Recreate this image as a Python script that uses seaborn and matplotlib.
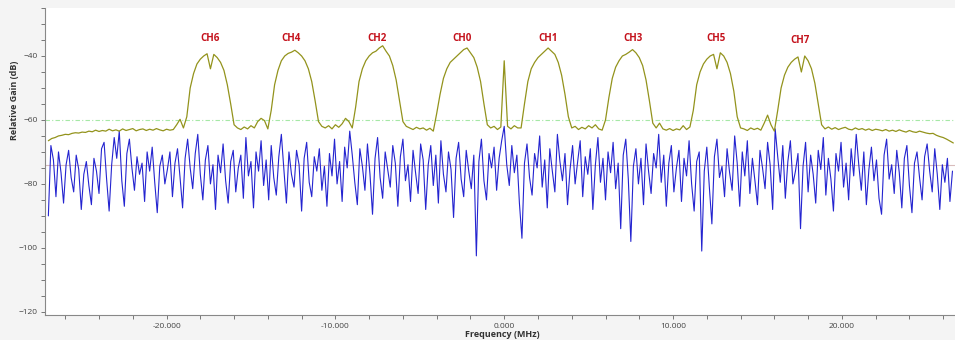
import numpy as np
import pandas as pd
import matplotlib
matplotlib.use("Agg")
import matplotlib.pyplot as plt
import seaborn as sns
from matplotlib.ticker import MultipleLocator, FormatStrFormatter

# Spectrum bins (MHz)
FREQ_START = -27.0
GREEN_STEP = 0.2
BLUE_STEP = 0.15

# Multi-channel output (olive trace), one value per 0.2 MHz bin
green_db = [
    -66.5, -65.8, -65.5, -65.0, -64.8, -64.5, -64.6, -64.2, -64.0, -64.1,
    -63.8, -63.9, -63.5, -63.7, -63.2, -63.6, -63.3, -63.5, -62.9, -63.4,
    -63.1, -63.5, -62.8, -63.3, -63.0, -62.7, -63.4, -63.0, -62.8, -63.3,
    -62.9, -63.2, -62.7, -63.1, -63.4, -62.9, -63.2, -63.0, -61.5, -59.8,
    -62.5, -59.0, -50.0, -45.5, -42.5, -41.0, -40.0, -39.3, -44.0, -39.5,
    -40.5, -42.0, -44.5, -49.0, -55.0, -61.5, -62.5, -63.0, -62.2, -62.8,
    -61.8, -62.5, -60.5, -59.5, -60.2, -62.8, -57.0, -49.0, -44.5, -41.5,
    -40.0, -39.2, -38.8, -38.2, -39.0, -40.0, -41.5, -44.0, -48.0, -54.0,
    -60.5, -62.0, -62.5, -61.8, -62.8, -61.5, -62.3, -61.2, -59.5, -60.5,
    -62.5, -56.0, -48.0, -44.0, -41.5, -40.0, -39.0, -38.5, -37.5, -36.8,
    -38.5, -40.0, -43.0, -47.5, -54.0, -60.5, -62.0, -62.5, -63.0, -62.3,
    -62.8, -62.5, -63.2, -62.6, -63.5, -58.0, -52.0, -47.0, -44.0, -42.0,
    -41.0, -40.0, -39.0, -38.0, -37.5, -39.0, -40.5, -43.5, -48.0, -55.0,
    -61.5, -62.5, -62.0, -63.0, -62.2, -41.5, -62.0, -62.8, -61.8, -62.5,
    -62.5, -55.0, -48.0, -44.0, -42.0, -40.5, -39.5, -38.5, -37.5, -38.5,
    -39.5, -42.0, -46.0, -52.0, -59.0, -62.5, -62.0, -63.0, -62.3, -62.8,
    -61.8, -62.5, -61.5, -62.8, -63.2, -60.0, -53.0, -47.0, -43.5, -41.5,
    -40.0, -39.5, -38.8, -38.0, -39.0, -40.5, -43.0, -47.5, -54.0, -61.0,
    -62.5, -61.0, -62.8, -63.2, -62.7, -63.3, -62.8, -63.1, -61.8, -63.0,
    -62.2, -57.0, -49.0, -45.0, -42.5, -41.0, -40.0, -39.5, -44.0, -39.0,
    -40.0, -42.0, -45.5, -51.0, -59.0, -62.5, -62.8, -63.3, -62.5, -63.0,
    -62.6, -63.2, -61.0, -58.5, -61.5, -63.5, -57.0, -50.0, -46.0, -43.5,
    -42.0, -41.0, -40.3, -45.0, -40.0, -41.5, -44.0, -48.5, -55.0, -61.5,
    -62.8, -62.2, -62.9, -62.4, -63.0, -62.6, -62.3, -62.9, -63.1, -62.5,
    -63.0, -62.7, -63.2, -62.8, -63.3, -62.9, -63.1, -63.4, -63.0, -63.5,
    -63.2, -63.6, -63.1, -63.5, -63.8, -63.3, -63.7, -63.9, -63.5, -63.8,
    -64.1, -64.3, -64.2, -64.8, -65.2, -65.5, -66.0, -66.6, -67.2,
]

# Input noise (blue trace), one value per 0.15 MHz bin
blue_db = [
    -90.0, -68.0, -72.5, -84.0, -70.0, -76.5, -86.0, -74.0, -69.5, -78.0,
    -82.5, -71.0, -75.5, -88.0, -77.0, -73.0, -80.5, -86.5, -72.0, -76.0,
    -83.0, -69.0, -67.0, -78.5, -88.5, -74.0, -65.5, -72.0, -63.5, -79.0,
    -87.0, -70.5, -66.0, -75.0, -82.0, -71.5, -77.0, -73.5, -85.5, -70.0,
    -76.0, -68.5, -79.5, -89.0, -74.5, -71.0, -80.0, -75.5, -70.0, -84.0,
    -73.5, -69.0, -78.0, -87.5, -72.0, -66.0, -75.0, -81.5, -70.5, -64.5,
    -77.0, -85.0, -72.5, -68.0, -80.0, -74.0, -88.0, -71.0, -76.5, -67.5,
    -79.0, -86.0, -73.0, -69.5, -82.5, -75.0, -71.0, -84.5, -65.5, -77.5,
    -73.0, -87.5, -70.0, -76.0, -66.5, -80.5, -72.5, -85.0, -68.0, -78.0,
    -83.5, -71.5, -64.5, -75.5, -86.0, -70.0, -77.0, -81.0, -69.5, -74.0,
    -88.5, -72.0, -67.0, -79.5, -84.0, -71.5, -76.0, -69.0, -82.0, -74.5,
    -87.0, -70.5, -77.5, -66.0, -80.0, -73.0, -85.5, -68.5, -75.0, -63.5,
    -71.0, -79.5, -86.5, -69.0, -74.5, -82.0, -67.5, -77.0, -89.5, -72.0,
    -65.5, -78.0, -84.5, -70.0, -75.5, -81.0, -68.0, -73.5, -87.0, -71.5,
    -66.0, -79.0, -74.0, -85.5, -69.5, -76.5, -83.0, -67.5, -72.5, -88.0,
    -74.0, -68.0, -80.5, -71.0, -86.0, -66.5, -77.0, -82.5, -70.0, -75.5,
    -90.5, -72.0, -67.0, -78.5, -84.0, -69.5, -76.0, -81.5, -71.0, -102.5,
    -73.0, -66.0, -79.0, -85.0, -70.5, -75.0, -68.5, -82.0, -72.0, -66.5,
    -62.0, -74.0, -80.5, -68.0, -76.5, -71.0, -86.0, -97.0, -73.5, -67.5,
    -78.0, -83.5, -70.5, -75.0, -65.0, -81.0, -72.5, -87.5, -69.0, -76.0,
    -82.5, -64.5, -73.0, -79.0, -70.5, -86.5, -75.5, -68.0, -80.0, -73.0,
    -66.5, -84.0, -71.5, -77.0, -69.0, -88.0, -74.0, -65.5, -79.5, -72.0,
    -85.0, -70.0, -76.5, -67.0, -81.5, -73.5, -94.0, -71.0, -66.0, -78.5,
    -98.0, -74.5, -69.0, -80.0, -72.0, -86.5, -67.5, -76.0, -83.0, -70.5,
    -75.0, -64.5, -79.5, -71.0, -87.0, -73.5, -68.0, -82.5, -75.0, -69.5,
    -85.5, -72.0, -77.5, -66.5, -80.0, -88.5, -73.0, -70.0, -101.0, -76.0,
    -68.5, -81.0, -92.5, -71.5, -66.0, -78.0, -74.5, -84.0, -69.0, -76.5,
    -82.0, -65.0, -73.5, -87.0, -70.0, -77.5, -66.5, -83.0, -72.0, -79.0,
    -86.5, -69.5, -75.0, -81.5, -67.0, -74.0, -88.0, -62.8, -71.5, -79.5,
    -68.0, -84.5, -73.0, -66.5, -80.0, -76.0, -70.5, -94.0, -74.5, -67.0,
    -82.5, -71.0, -77.0, -86.0, -69.5, -75.5, -65.5, -83.5, -72.0, -78.5,
    -88.5, -70.5, -76.0, -67.0, -81.0, -73.5, -85.0, -69.0, -77.5, -64.5,
    -74.0, -82.0, -70.0, -86.5, -75.5, -68.5, -79.0, -72.5, -84.5, -89.5,
    -71.0, -66.0, -78.5, -74.0, -83.0, -69.5, -76.5, -87.5, -72.0, -68.0,
    -80.5, -89.0, -73.5, -70.0, -78.0, -85.0, -71.5, -67.5, -76.0, -82.5,
    -69.0, -77.0, -88.0, -74.0, -79.5, -72.0, -85.5, -76.0,
]

channel_names = ["CH6", "CH4", "CH2", "CH0", "CH1", "CH3", "CH5", "CH7"]
channel_freqs = [-17.45, -12.6, -7.55, -2.5, 2.6, 7.6, 12.55, 17.5]
channel_label_db = [-34.6, -34.6, -34.6, -34.4, -34.6, -34.6, -34.4, -35.3]

threshold_db = -60
noise_mean_db = -74

green = pd.DataFrame({
    "freq": FREQ_START + GREEN_STEP * np.arange(len(green_db)),
    "gain": green_db,
})
blue = pd.DataFrame({
    "freq": FREQ_START + BLUE_STEP * np.arange(len(blue_db)),
    "gain": blue_db,
})

sns.set_theme(style="white")
plt.rcParams["font.family"] = ["Open Sans", "DejaVu Sans"]

fig = plt.figure(figsize=(9.55, 3.4), dpi=100, facecolor="#f4f4f4")
ax = fig.add_axes([0.0471, 0.0735, 0.9529, 0.9029])
ax.set_facecolor("white")

ax.axhline(noise_mean_db, color="#d9bcbc", linewidth=0.8, zorder=1)
ax.axhline(threshold_db, color="#a6e8a6", linewidth=0.8,
           linestyle=(0, (4, 2, 1, 2)), zorder=1)

sns.lineplot(data=blue, x="freq", y="gain", ax=ax, color="#2424d0",
             linewidth=0.8, estimator=None, zorder=2)
sns.lineplot(data=green, x="freq", y="gain", ax=ax, color="#93931c",
             linewidth=0.9, estimator=None, zorder=3)

for name, f, db in zip(channel_names, channel_freqs, channel_label_db):
    ax.text(f, db, name, color="#c4121c", fontsize=7, fontweight="bold",
            ha="center", va="center")

ax.set_xlim(-27.2, 26.7)
ax.set_ylim(-121, -25)

ax.xaxis.set_major_locator(MultipleLocator(10))
ax.xaxis.set_minor_locator(MultipleLocator(2))
ax.xaxis.set_major_formatter(FormatStrFormatter("%.3f"))
ax.yaxis.set_major_locator(MultipleLocator(20))
ax.yaxis.set_minor_locator(MultipleLocator(5))

ax.tick_params(axis="both", which="both", direction="out", length=3,
               width=0.7, color="#777777", labelsize=6, labelcolor="#444444",
               pad=2)
ax.tick_params(axis="x", which="major", pad=3)
ax.tick_params(left=True, bottom=True)
ax.tick_params(which="minor", left=True, bottom=True)

sns.despine(ax=ax, top=True, right=True)
for side in ["left", "bottom"]:
    ax.spines[side].set_color("#888888")
    ax.spines[side].set_linewidth(0.8)

ax.set_xlabel("Frequency (MHz)", fontsize=6.5, fontweight="bold",
              color="#333333")
ax.set_ylabel("Relative Gain (dB)", fontsize=6.5, fontweight="bold",
              color="#333333")
ax.xaxis.set_label_coords(0.503, -0.05)
ax.yaxis.set_label_coords(-0.029, 0.70)

fig.savefig("out.png", dpi=100, facecolor=fig.get_facecolor())
